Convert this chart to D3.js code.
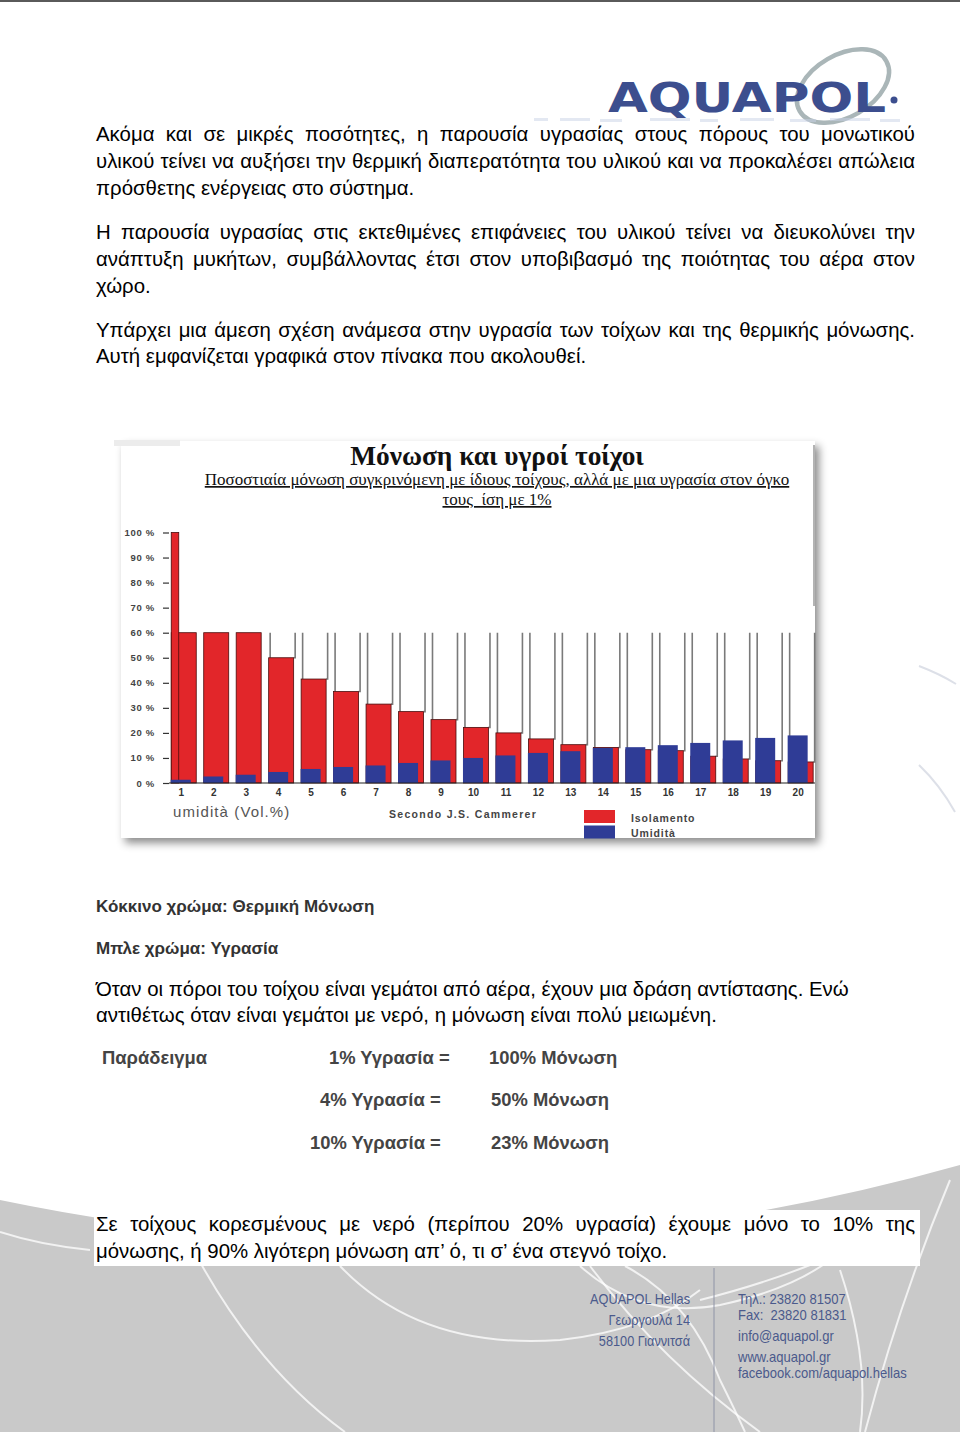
<!DOCTYPE html>
<html>
<head>
<meta charset="utf-8">
<script src="https://cdn.jsdelivr.net/npm/d3@7"></script>
<style>
html,body{margin:0;padding:0;background:#fff;}
svg{display:block;}
</style>
</head>
<body>
<svg id="page" width="960" height="1432"></svg>
<script>
// ---------------- DATA ----------------
const categories = ["1","2","3","4","5","6","7","8","9","10","11","12","13","14","15","16","17","18","19","20"];
const isolamento = [100, 60, 60, 50, 41.5, 36.5, 31.5, 28.5, 25.3, 22.2, 20, 17.6, 15.3, 14.2, 13.3, 12.9, 10.7, 9.6, 8.9, 8.4];
const umidita    = [1.3, 2.6, 3.3, 4.4, 5.6, 6.4, 7, 8, 9, 10, 11, 12, 12.7, 14, 14.3, 15.1, 16, 17, 18, 19];
const boxLevel = 60; // height of the grey "container" boxes
const yTickValues = [0, 10, 20, 30, 40, 50, 60, 70, 80, 90, 100];
const yTickLabels = ["0 %", "10 %", "20 %", "30 %", "40 %", "50 %", "60 %", "70 %", "80 %", "90 %", "100 %"];
const legendLabels = ["Isolamento", "Umidità"];

const chartTitle = "Μόνωση και υγροί τοίχοι";
const chartSubtitle = ["Ποσοστιαία μόνωση συγκρινόμενη με ίδιους τοίχους, αλλά με μια υγρασία στον όγκο", "τους  ίση με 1%"];

const para1 = ["Ακόμα και σε μικρές ποσότητες, η παρουσία υγρασίας στους πόρους του μονωτικού",
               "υλικού τείνει να αυξήσει την θερμική διαπερατότητα του υλικού και να προκαλέσει απώλεια",
               "πρόσθετης ενέργειας στο σύστημα."];
const para2 = ["Η παρουσία υγρασίας στις εκτεθιμένες επιφάνειες του υλικού τείνει να διευκολύνει την",
               "ανάπτυξη μυκήτων, συμβάλλοντας έτσι στον υποβιβασμό της ποιότητας του αέρα στον",
               "χώρο."];
const para3 = ["Υπάρχει μια άμεση σχέση ανάμεσα στην υγρασία των τοίχων και της θερμικής  μόνωσης.",
               "Αυτή εμφανίζεται γραφικά στον πίνακα που ακολουθεί."];
const colorNotes = ["Κόκκινο χρώμα: Θερμική Μόνωση", "Μπλε χρώμα: Υγρασία"];
const para4 = ["Όταν οι πόροι του τοίχου είναι γεμάτοι από αέρα, έχουν μια δράση αντίστασης. Ενώ",
               "αντιθέτως όταν είναι γεμάτοι με νερό, η μόνωση είναι πολύ μειωμένη."];
const exampleHead = "Παράδειγμα";
const exampleLeft = ["1% Υγρασία =", "4% Υγρασία =", "10% Υγρασία ="];
const exampleRight = ["100% Μόνωση", "50% Μόνωση", "23% Μόνωση"];
const para5 = ["Σε τοίχους κορεσμένους με νερό (περίπου 20% υγρασία) έχουμε μόνο το 10% της",
               "μόνωσης, ή 90% λιγότερη μόνωση απ’ ό, τι σ’ ένα στεγνό τοίχο."];
const footerLeft = ["AQUAPOL Hellas", "Γεωργουλά 14", "58100 Γιαννιτσά"];
const footerRight = ["Τηλ.: 23820 81507", "Fax:  23820 81831", "info@aquapol.gr", "www.aquapol.gr", "facebook.com/aquapol.hellas"];

// ---------------- PAGE ----------------
const svg = d3.select("#page");
const SANS = "'Liberation Sans', Arial, sans-serif";
const SERIF = "'Liberation Serif', 'Times New Roman', serif";
const NARROW = "'Liberation Sans Narrow', 'Liberation Sans', sans-serif";

const defs = svg.append("defs");
const f = defs.append("filter").attr("id","shadow").attr("x","-5%").attr("y","-5%").attr("width","115%").attr("height","120%");
f.append("feDropShadow").attr("dx",4).attr("dy",5).attr("stdDeviation",4).attr("flood-color","#000").attr("flood-opacity",0.45);
const blur = defs.append("filter").attr("id","soft");
blur.append("feGaussianBlur").attr("stdDeviation",0.6);

svg.append("rect").attr("width",960).attr("height",1432).attr("fill","#fff");
// top border line
svg.append("rect").attr("x",0).attr("y",0).attr("width",960).attr("height",2).attr("fill","#5a5a5a");

// footer grey area
svg.append("path").attr("d","M0,1200 Q480,1300 960,1165 L960,1432 L0,1432 Z").attr("fill","#c9c9c9");
// decorative white arcs in the footer
const arcs = svg.append("g").attr("fill","none").attr("stroke","#ffffff").attr("stroke-opacity",0.75).attr("stroke-width",2);
arcs.append("path").attr("d","M200,1262 Q260,1370 345,1432");
arcs.append("path").attr("d","M340,1266 Q420,1350 560,1340 Q650,1330 700,1290");
arcs.append("path").attr("d","M580,1266 Q640,1320 720,1305 Q790,1290 830,1260");
arcs.append("path").attr("d","M590,1266 Q660,1360 760,1432");
arcs.append("path").attr("d","M625,1266 Q690,1300 720,1380 Q735,1410 745,1432");
arcs.append("path").attr("d","M700,1300 Q760,1285 810,1265");
arcs.append("path").attr("d","M840,1270 Q870,1360 860,1432");
arcs.append("path").attr("d","M950,1180 Q900,1300 865,1432");
arcs.append("path").attr("d","M0,1232 Q40,1245 90,1250");
// faint grey curves on the right margin
const marg = svg.append("g").attr("fill","none").attr("stroke","#dde0e8").attr("stroke-width",2);
marg.append("path").attr("d","M919,666 Q940,674 956,684");
marg.append("path").attr("d","M919,765 Q940,785 955,812");

// ---------------- LOGO ----------------
const logo = svg.append("g");
logo.append("ellipse").attr("cx",843).attr("cy",86).attr("rx",50).attr("ry",31)
  .attr("transform","rotate(-30,843,86)").attr("fill","none").attr("stroke","#aab6b8").attr("stroke-width",4.5);
logo.append("text").attr("x",608).attr("y",112).text("AQUAPOL")
  .attr("font-family","'DejaVu Sans', sans-serif").attr("font-weight","bold").attr("font-size",40)
  .attr("textLength",278).attr("lengthAdjust","spacingAndGlyphs").attr("fill","#3c4e8e");
logo.append("circle").attr("cx",894).attr("cy",100).attr("r",3.5).attr("fill","#3c4e8e");
// faint blurred tagline strokes under the logo (decorative, not text)
const tag = logo.append("g").attr("fill","#c9d2e6").attr("opacity",0.5).attr("filter","url(#soft)");
[[534,118,14],[560,118,30],[600,119,22],[650,118,40],[700,119,18],[740,118,34],[790,119,26],[830,118,40],[880,119,20]]
  .forEach(r => tag.append("rect").attr("x",r[0]).attr("y",r[1]).attr("width",r[2]).attr("height",3));

// ---------------- TEXT HELPERS ----------------
const measurer = svg.append("text").attr("visibility","hidden");
function measure(str, size, weight, family) {
  measurer.attr("font-size",size).attr("font-weight",weight).attr("font-family",family).text(str);
  return measurer.node().getComputedTextLength();
}
function line(str, x, y, o) {
  const size = o.size || 18, weight = o.weight || "normal", family = o.family || SANS, fill = o.fill || "#000";
  const g = svg.append("g");
  if (o.justify) {
    const words = str.split(/\s+/).filter(w => w.length);
    const widths = words.map(w => measure(w, size, weight, family));
    const sum = d3.sum(widths);
    const gap = (o.width - sum) / (words.length - 1);
    let cx = x;
    words.forEach((w, i) => {
      g.append("text").attr("x", cx).attr("y", y).text(w)
        .attr("font-size", size).attr("font-weight", weight).attr("font-family", family).attr("fill", fill);
      cx += widths[i] + gap;
    });
  } else {
    const t = g.append("text").text(str)
      .attr("font-size", size).attr("font-weight", weight).attr("font-family", family).attr("fill", fill)
      .attr("text-anchor", o.anchor || "start").style("white-space","pre");
    if (o.sx) t.attr("transform", `translate(${x},${y}) scale(${o.sx},1)`);
    else t.attr("x", x).attr("y", y);
  }
  return g;
}
const BX = 96, BW = 819, FS = 20.4;
function para(lines, y0, lh, justifyAll) {
  lines.forEach((l, i) => line(l, BX, y0 + i * lh, {size: FS, justify: justifyAll && i < lines.length - 1, width: BW}));
}
para(para1, 141, 27, true);
para(para2, 239, 27, true);
para(para3, 337, 26, true);

line(colorNotes[0], 96, 912, {size: 17, weight: "bold", fill: "#333"});
line(colorNotes[1], 96, 954, {size: 17, weight: "bold", fill: "#333"});
para(para4, 996, 26, false);

line(exampleHead, 102, 1064, {size: 18.4, weight: "bold", fill: "#444"});
const exY = [1064, 1106, 1149];
const exLX = [329, 320, 310];
exampleLeft.forEach((t, i) => line(t, exLX[i], exY[i], {size: 18.4, weight: "bold", fill: "#444"}));
const exRX = [489, 491, 491];
exampleRight.forEach((t, i) => line(t, exRX[i], exY[i], {size: 18.4, weight: "bold", fill: "#444"}));

// white box behind last paragraph
svg.append("rect").attr("x",94).attr("y",1210).attr("width",826).attr("height",56).attr("fill","#fff");
para(para5, 1231, 27, true);

// footer texts
svg.append("line").attr("x1",714).attr("x2",714).attr("y1",1268).attr("y2",1432).attr("stroke","#8e93a6").attr("stroke-width",1);
const fy1 = [1304, 1325, 1346];
footerLeft.forEach((t, i) => line(t, 690, fy1[i], {size: 14.8, family: NARROW, fill: "#4b5a8c", anchor: "end", sx: 0.86}));
const fy2 = [1304, 1320, 1341, 1362, 1378];
footerRight.forEach((t, i) => line(t, 738, fy2[i], {size: 14.8, family: NARROW, fill: "#4b5a8c", sx: 0.88}));

// ---------------- CHART ----------------
const panel = svg.append("g");
panel.append("rect").attr("x",121).attr("y",441).attr("width",694).attr("height",397)
  .attr("fill","#fff").attr("filter","url(#shadow)");
panel.append("rect").attr("x",114).attr("y",440).attr("width",66).attr("height",6).attr("fill","#ececec").attr("filter","url(#soft)");
panel.append("line").attr("x1",814).attr("x2",814).attr("y1",445).attr("y2",606).attr("stroke","#9a9a9a").attr("stroke-width",1.5);

panel.append("text").attr("x",497).attr("y",465).text(chartTitle).attr("text-anchor","middle")
  .attr("font-family",SERIF).attr("font-weight","bold").attr("font-size",27.4).attr("fill","#111");
chartSubtitle.forEach((t, i) => {
  panel.append("text").attr("x",497).attr("y",485 + i * 20).text(t).attr("text-anchor","middle")
    .attr("font-family",SERIF).attr("font-size",17).attr("fill","#111")
    .attr("text-decoration","underline").style("white-space","pre");
});

const x = d3.scaleBand().domain(categories).range([168, 816.4]).paddingInner(0.23).paddingOuter(0.1);
const y = d3.scaleLinear().domain([0, 100]).range([783, 532.5]);
const bw = x.bandwidth();
const RED = "#e2262a", BLUE = "#2f3c96";

// y axis
const yAxis = d3.axisLeft(y).tickValues(yTickValues).tickFormat((d, i) => yTickLabels[i]).tickSize(6).tickPadding(8);
const ya = panel.append("g").attr("transform","translate(169,0)").call(yAxis);
ya.select(".domain").remove();
ya.selectAll(".tick line").attr("stroke","#333").attr("stroke-width",1.2);
ya.selectAll(".tick text").attr("font-family",SANS).attr("font-weight","bold").attr("font-size",9.5)
  .attr("fill","#444").attr("letter-spacing",0.7);

const data = categories.map((c, i) => ({c, iso: isolamento[i], umi: umidita[i]}));

// grey containers
panel.append("g").selectAll("path").data(data.filter(d => d.iso < boxLevel)).join("path")
  .attr("d", d => {
    const xl = x(d.c) + 1.5, xr = x(d.c) + bw + 1.5, yt = y(boxLevel), yb = y(d.iso);
    return `M${xl},${yt}V${yb}M${xr},${yt}V${yb}H${x(d.c) + bw}`;
  })
  .attr("fill","none").attr("stroke","#7a7a7a").attr("stroke-width",1.6);

// red (isolamento) - wide part clipped at box level, narrow strip for excess
panel.append("g").selectAll("rect.iso").data(data).join("rect").attr("class","iso")
  .attr("x", d => x(d.c)).attr("width", bw)
  .attr("y", d => y(Math.min(d.iso, boxLevel))).attr("height", d => y(0) - y(Math.min(d.iso, boxLevel)))
  .attr("fill", RED).attr("stroke","#4a0c0c").attr("stroke-width",0.8);
panel.append("g").selectAll("rect.iso2").data(data.filter(d => d.iso > boxLevel)).join("rect")
  .attr("x", d => x(d.c)).attr("width", bw * 0.3)
  .attr("y", d => y(d.iso)).attr("height", d => y(0) - y(d.iso))
  .attr("fill", RED).attr("stroke","#4a0c0c").attr("stroke-width",0.8);

// blue (umidita)
panel.append("g").selectAll("rect.umi").data(data).join("rect")
  .attr("x", d => x(d.c) - 0.5).attr("width", bw * 0.8)
  .attr("y", d => y(d.umi)).attr("height", d => y(0) - y(d.umi))
  .attr("fill", BLUE);

// baseline
panel.append("line").attr("x1",169).attr("x2",815).attr("y1",y(0)).attr("y2",y(0)).attr("stroke","#222").attr("stroke-width",1.2);

// x labels
const xAxis = d3.axisBottom(x).tickSize(0).tickPadding(0);
const xa = panel.append("g").attr("transform",`translate(${-bw / 2 + bw * 0.4},${y(0) + 13})`).call(xAxis);
xa.select(".domain").remove();
xa.selectAll(".tick text").attr("font-family",SANS).attr("font-weight","bold").attr("font-size",10).attr("fill","#333").attr("dy",0);

panel.append("text").attr("x",173).attr("y",817).text("umidità (Vol.%)")
  .attr("font-family",SANS).attr("font-size",15).attr("fill","#555").attr("letter-spacing",1.1);
panel.append("text").attr("x",389).attr("y",818).text("Secondo J.S. Cammerer")
  .attr("font-family",SANS).attr("font-weight","bold").attr("font-size",10.5).attr("fill","#444").attr("letter-spacing",1.3);

// legend
const legColors = [RED, BLUE];
legendLabels.forEach((t, i) => {
  panel.append("rect").attr("x",584).attr("y",810 + i * 15.5).attr("width",31).attr("height",13).attr("fill",legColors[i]);
  panel.append("text").attr("x",631).attr("y",821.5 + i * 15).text(t)
    .attr("font-family",SANS).attr("font-weight","bold").attr("font-size",10.5).attr("fill","#444").attr("letter-spacing",0.9);
});
measurer.remove();
</script>
</body>
</html>
